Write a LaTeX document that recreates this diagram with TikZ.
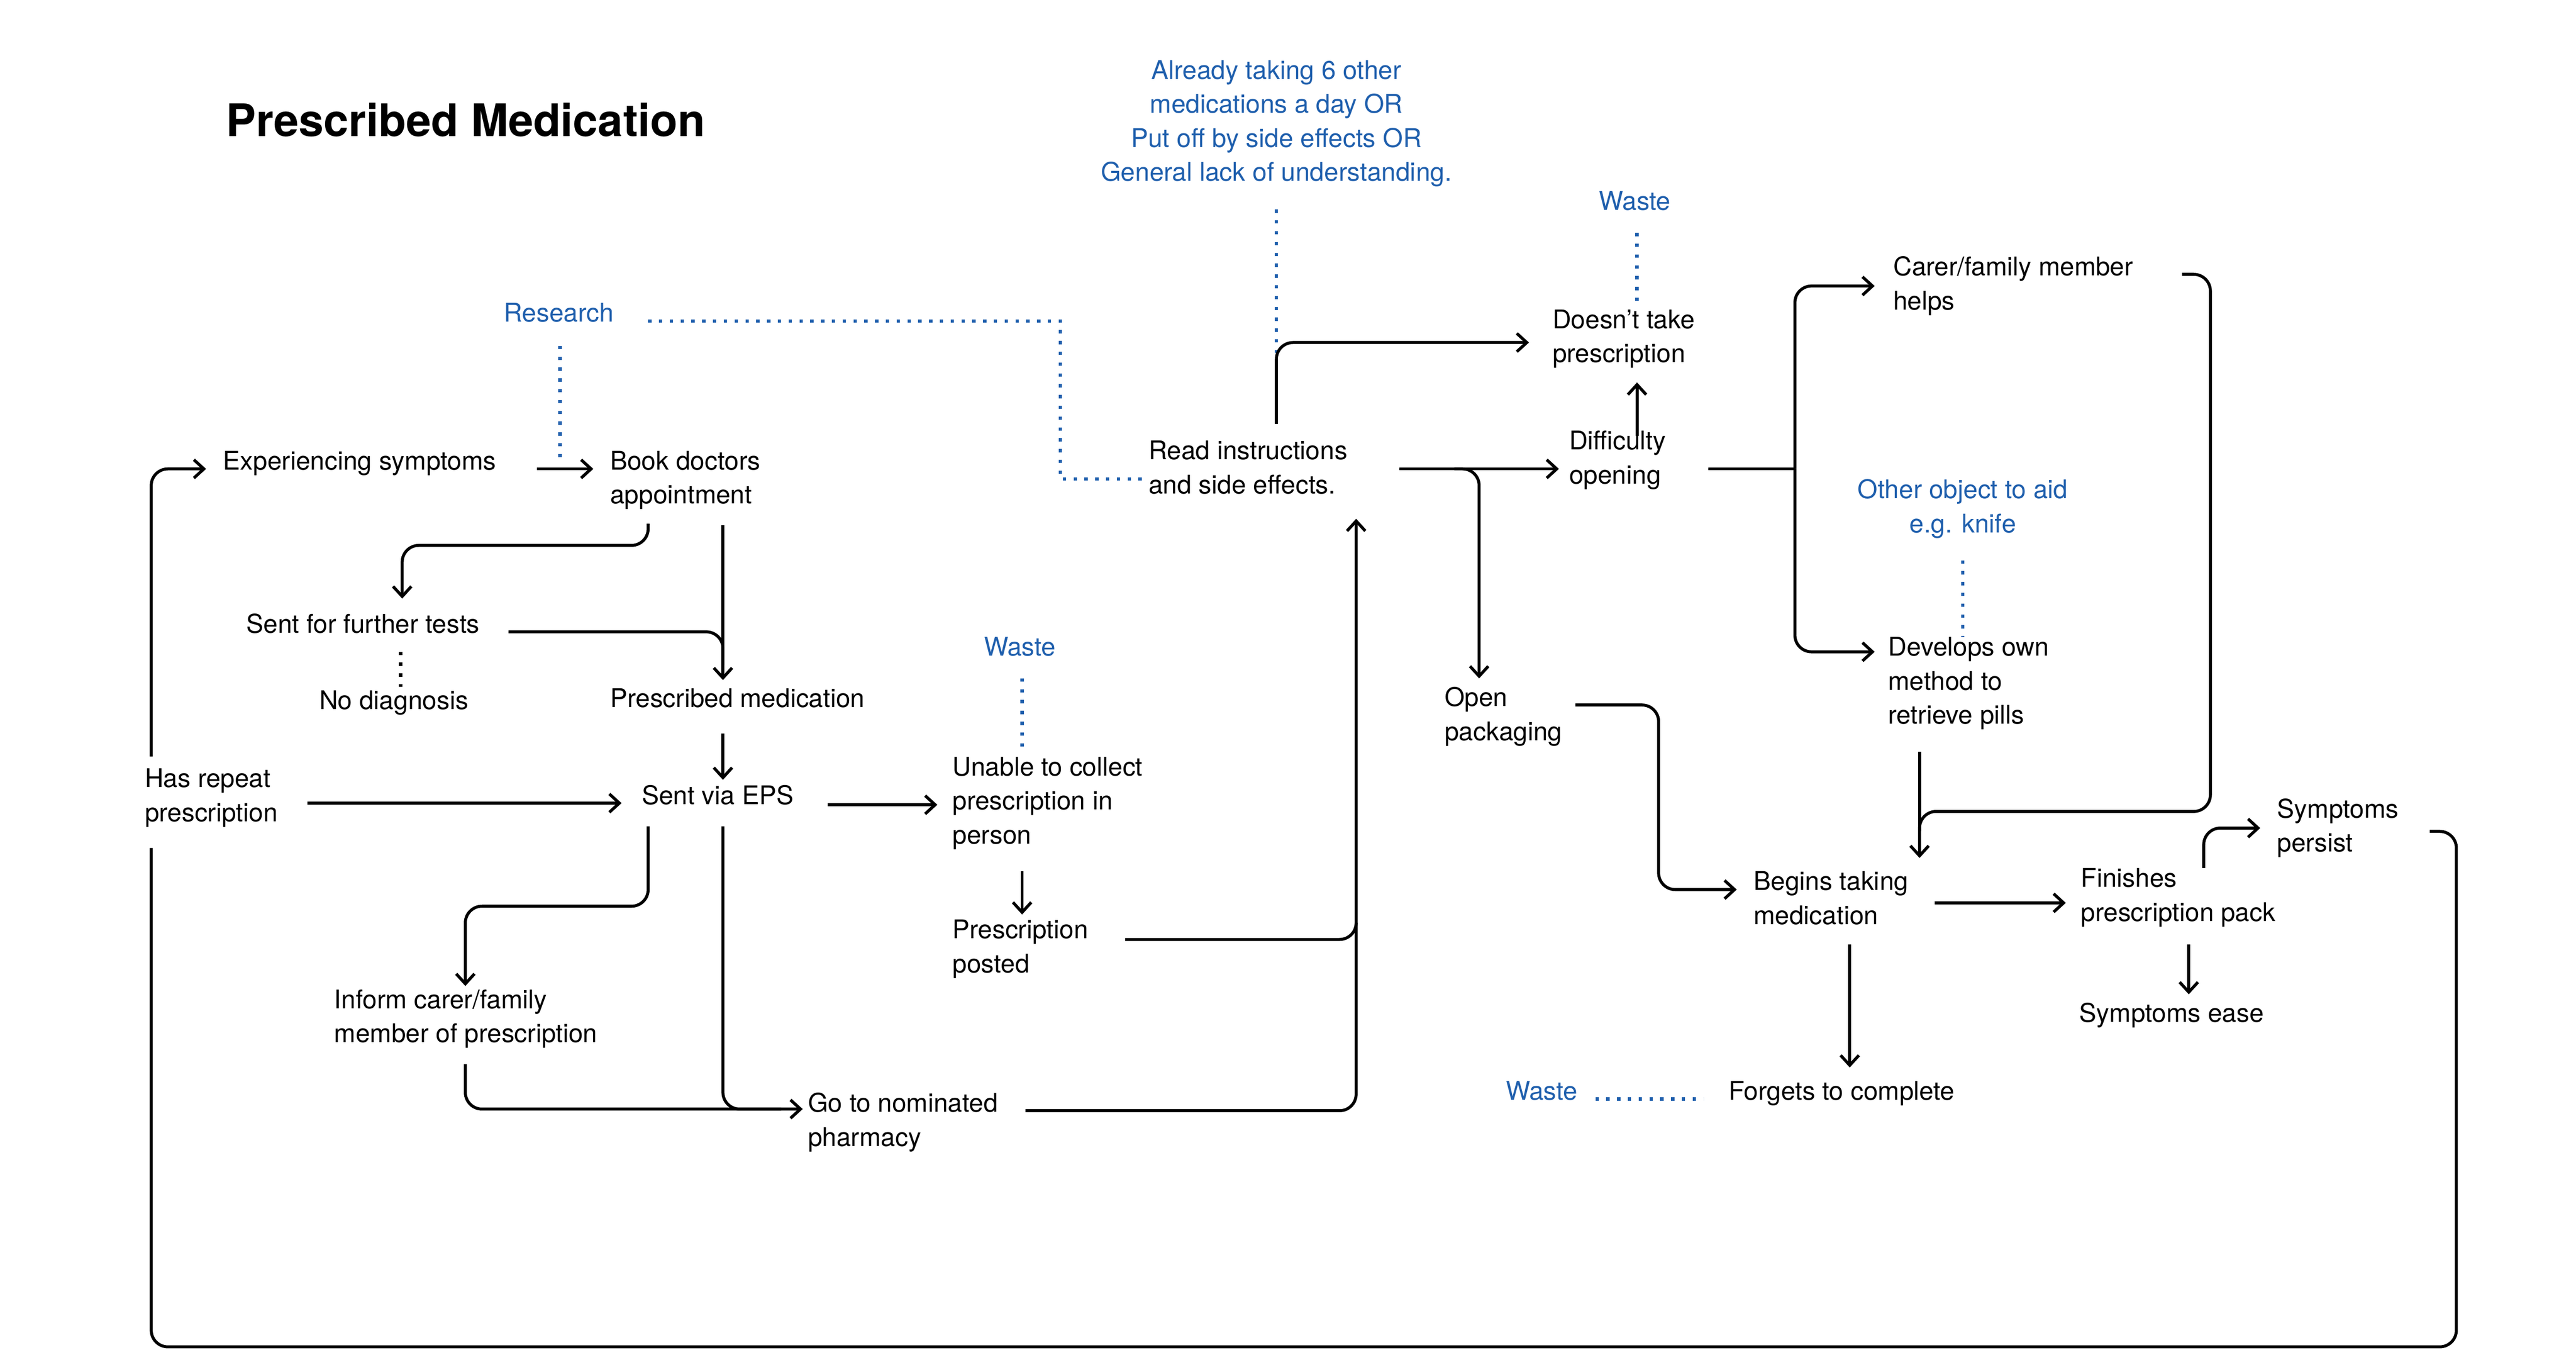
\documentclass[tikz,border=0pt]{standalone}
\usepackage{fontspec}
\setmainfont{TeX Gyre Heros}
\usetikzlibrary{arrows.meta}
\definecolor{wblue}{HTML}{1F5FAD}
\tikzset{
  x=1pt,y=-1pt,
  txt/.style={anchor=north west,align=left,inner sep=0pt,font=\fontsize{15.5}{20.5}\selectfont},
  btxt/.style={txt,text=wblue},
  ctxt/.style={anchor=north,align=center,inner sep=0pt,text=wblue,font=\fontsize{15.5}{20.5}\selectfont},
  con/.style={line width=1.8pt,rounded corners=10pt},
  arr/.style={con,-{Straight Barb[length=6pt,width=11pt,line width=1.8pt]}},
  dotb/.style={line width=2pt,wblue,dash pattern=on 2pt off 4.5pt},
  dotk/.style={line width=2pt,black,dash pattern=on 2pt off 4.5pt},
}
\begin{document}
\begin{tikzpicture}
\useasboundingbox (0,0) rectangle (1550,825);
\node[anchor=west,inner sep=0pt,font=\fontsize{27}{30}\selectfont\bfseries] (title) at (136,72) {Prescribed Medication};
\node[btxt] (research) at (303,182) {Research};
\node[txt] (exp) at (134,271) {Experiencing symptoms};
\node[txt] (book) at (367,271) {Book doctors\\appointment};
\node[txt] (tests) at (148,369) {Sent for further tests};
\node[txt] (nodiag) at (192,415) {No diagnosis};
\node[txt] (presc) at (367,414) {Prescribed medication};
\node[txt] (repeat) at (87,462) {Has repeat\\prescription};
\node[txt] (eps) at (386,472) {Sent via EPS};
\node[btxt] (waste1) at (592,383) {Waste};
\node[txt] (unable) at (573,455) {Unable to collect\\prescription in\\person};
\node[txt] (posted) at (573,553) {Prescription\\posted};
\node[txt] (inform) at (201,595) {Inform carer/family\\member of prescription};
\node[txt] (pharm) at (486,657) {Go to nominated\\pharmacy};
\node[ctxt] (already) at (768,36) {Already taking 6 other\\medications a day OR\\Put off by side effects OR\\General lack of understanding.};
\node[txt] (read) at (691,265) {Read instructions\\and side effects.};
\node[btxt] (waste2) at (962,115) {Waste};
\node[txt] (doesnt) at (934,186) {Doesn’t take\\prescription};
\node[txt] (diff) at (944,259) {Difficulty\\opening};
\node[txt] (carer) at (1139,154) {Carer/family member\\helps};
\node[ctxt] (other) at (1181,288) {Other object to aid\\e.g. knife};
\node[txt] (develops) at (1136,383) {Develops own\\method to\\retrieve pills};
\node[txt] (open) at (869,413) {Open\\packaging};
\node[txt] (begins) at (1055,524) {Begins taking\\medication};
\node[txt] (finishes) at (1252,522) {Finishes\\prescription pack};
\node[txt] (persist) at (1370,480) {Symptoms\\persist};
\node[txt] (ease) at (1251,603) {Symptoms ease};
\node[btxt] (waste3) at (906,650) {Waste};
\node[txt] (forgets) at (1040,650) {Forgets to complete};

% connectors
\draw[arr] (323,282) -- (357,282);
\draw[dotb] (337,208) -- (337,276);
\draw[dotb] (390,193) -- (638,193) -- (638,288) -- (688,288);
\draw[arr] (390,315) -- (390,328) -- (242,328) -- (242,360);
\draw[arr] (435,316) -- (435,409);
\draw[con] (306,380) -- (435,380) -- (435,400);
\draw[dotk] (241,392) -- (241,413);
\draw[arr] (435,441) -- (435,469);
\draw[arr] (185,483) -- (374,483);
\draw[arr] (91,455) -- (91,282) -- (124,282);
\draw[con] (91,510) -- (91,810) -- (1478,810) -- (1478,500) -- (1462,500);
\draw[arr] (498,484) -- (564,484);
\draw[dotb] (615,408) -- (615,452);
\draw[arr] (615,524) -- (615,550);
\draw[arr] (677,565) -- (816,565) -- (816,312);
\draw[arr] (390,497) -- (390,545) -- (280,545) -- (280,593);
\draw[arr] (435,497) -- (435,667) -- (483,667);
\draw[con] (280,640) -- (280,667) -- (470,667);
\draw[con] (617,668) -- (816,668) -- (816,555);
\draw[dotb] (768,126) -- (768,212);
\draw[arr] (768,255) -- (768,206) -- (920,206);
\draw[arr] (842,282) -- (938,282);
\draw[arr] (875,282) -- (890,282) -- (890,408);
\draw[arr] (985,262) -- (985,230);
\draw[dotb] (985,140) -- (985,184);
\draw[con] (1028,282) -- (1080,282);
\draw[arr] (1080,282) -- (1080,172) -- (1128,172);
\draw[arr] (1080,282) -- (1080,392) -- (1128,392);
\draw[dotb] (1181,337) -- (1181,383);
\draw[arr] (1313,165) -- (1330,165) -- (1330,488) -- (1155,488) -- (1155,516);
\draw[con] (1155,452) -- (1155,500);
\draw[arr] (948,424) -- (998,424) -- (998,535) -- (1045,535);
\draw[arr] (1164,543) -- (1243,543);
\draw[arr] (1113,568) -- (1113,642);
\draw[dotb] (960,661) -- (1025,661);
\draw[arr] (1317,568) -- (1317,598);
\draw[arr] (1326,522) -- (1326,498) -- (1360,498);
\end{tikzpicture}
\end{document}
